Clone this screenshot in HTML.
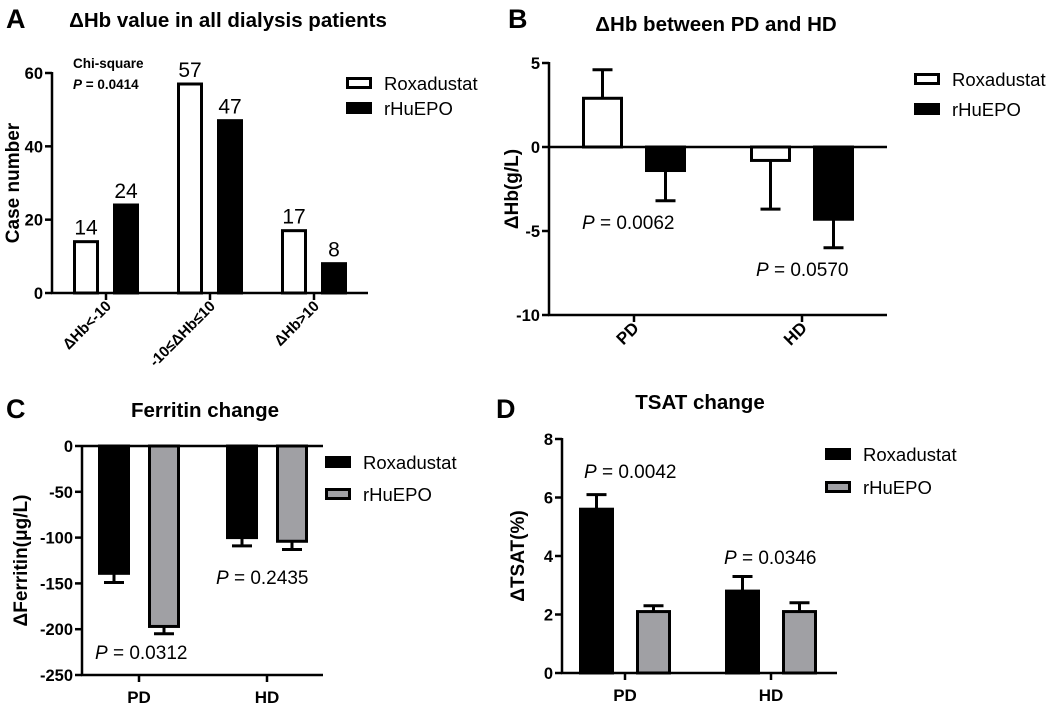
<!DOCTYPE html>
<html><head><meta charset="utf-8"><style>
html,body{margin:0;padding:0;background:#fff}
svg{display:block;font-family:"Liberation Sans",Arial,sans-serif}
</style></head><body>
<svg id="fig" width="1052" height="705" viewBox="0 0 1052 705">
<text x="6" y="28" font-size="27" font-weight="bold">A</text>
<text x="228" y="27" font-size="20.5" font-weight="bold" text-anchor="middle">ΔHb value in all dialysis patients</text>
<text x="508" y="28" font-size="27" font-weight="bold">B</text>
<text x="716" y="31" font-size="20.5" font-weight="bold" text-anchor="middle">ΔHb between PD and HD</text>
<text x="6" y="418" font-size="27" font-weight="bold">C</text>
<text x="205" y="417" font-size="20.5" font-weight="bold" text-anchor="middle">Ferritin change</text>
<text x="496" y="418" font-size="27" font-weight="bold">D</text>
<text x="700" y="409" font-size="20.5" font-weight="bold" text-anchor="middle">TSAT change</text>
<text x="73" y="68" font-size="13.5" font-weight="bold">Chi-square</text>
<text x="73" y="89" font-size="13.5" font-weight="bold"><tspan font-style="italic">P</tspan> = 0.0414</text>
</svg>
<script>
// Panel A data
const aCategories = ["ΔHb<-10", "-10≤ΔHb≤10", "ΔHb>10"];
const aRoxa = [14, 57, 17];
const aEpo = [24, 47, 8];
const aTicks = [0, 20, 40, 60];
// Panel B data
const bCategories = ["PD", "HD"];
const bRoxa = [2.9, -0.8];
const bEpo = [-1.4, -4.3];
const bRoxaErr = [4.6, -3.7];
const bEpoErr = [-3.2, -6.0];
const bTicks = [5, 0, -5, -10];
const bPvals = ["0.0062", "0.0570"];
// Panel C data
const cCategories = ["PD", "HD"];
const cRoxa = [-139, -100];
const cEpo = [-197, -104];
const cRoxaErr = [-149, -109];
const cEpoErr = [-205, -113];
const cTicks = [0, -50, -100, -150, -200, -250];
const cPvals = ["0.0312", "0.2435"];
// Panel D data
const dCategories = ["PD", "HD"];
const dRoxa = [5.6, 2.8];
const dEpo = [2.1, 2.1];
const dRoxaErr = [6.1, 3.3];
const dEpoErr = [2.3, 2.4];
const dTicks = [0, 2, 4, 6, 8];
const dPvals = ["0.0042", "0.0346"];

const NS = "http://www.w3.org/2000/svg";
const svg = document.getElementById('fig');
function mk(tag, attrs, parent) {
  const e = document.createElementNS(NS, tag);
  for (const k in attrs) e.setAttribute(k, attrs[k]);
  (parent || svg).appendChild(e);
  return e;
}
function txt(x, y, s, size, extra) {
  const t = mk('text', Object.assign({x: x, y: y, 'font-size': size}, extra || {}));
  t.textContent = s;
  return t;
}
function scaleY(vmin, vmax, ymin, ymax) { return v => ymax - (v - vmin) / (vmax - vmin) * (ymax - ymin); }

function panel(cfg) {
  const g = mk('g', {});
  
  
  const y = scaleY(cfg.vmin, cfg.vmax, cfg.yTop, cfg.yBot);
  cfg.cats.forEach((c, i) => {
    const cx = cfg.x0 + cfg.groupStart + i * cfg.groupStep;
    [[cfg.roxa, cfg.roxaErr, cfg.roxaFill], [cfg.epo, cfg.epoErr, cfg.epoFill]].forEach((s, j) => {
      const v = s[0][i];
      const bx = j === 0 ? cx - cfg.gap / 2 - cfg.bw : cx + cfg.gap / 2;
      const y0 = y(0), y1 = y(v);
      if (s[1]) {
        const ye = y(s[1][i]);
        const ex = bx + cfg.bw / 2;
        const el = mk('path', {d: `M${ex},${y1} L${ex},${ye} M${ex - 10},${ye} L${ex + 10},${ye}`, stroke: '#000', 'stroke-width': 3, fill: 'none'}, g);
        
        
      }
      const r = mk('rect', {x: bx + 1.5, y: Math.min(y0, y1), width: cfg.bw - 3, height: Math.abs(y1 - y0), fill: s[2], stroke: '#000', 'stroke-width': 3}, g);
      
      
      if (cfg.labels) {
        const t = txt(bx + cfg.bw / 2, y1 - 7, String(v), 21, {'text-anchor': 'middle'});
        
        
      }
    });
    const tk = mk('line', {x1: cx, x2: cx, y1: cfg.xAxisY, y2: cfg.xAxisY + 7, stroke: '#000', 'stroke-width': 2.5}, g);
    
    
    let lt;
    if (cfg.rotate) {
      lt = txt(cx + 6, cfg.xAxisY + 14, c, cfg.rotSize || 15, {'text-anchor': 'end', 'font-weight': 'bold', transform: `rotate(-45 ${cx + 6} ${cfg.xAxisY + 14})`});
    } else {
      lt = txt(cx, cfg.xAxisY + 28, c, 17, {'text-anchor': 'middle', 'font-weight': 'bold'});
    }
    
    
  });
  const ya = mk('line', {x1: cfg.x0, x2: cfg.x0, y1: cfg.yTop - 1, y2: cfg.yBot + 1, stroke: '#000', 'stroke-width': 2.5}, g);
  
  
  const xa = mk('line', {x1: cfg.x0 - 1, x2: cfg.xEnd, y1: cfg.xAxisY, y2: cfg.xAxisY, stroke: '#000', 'stroke-width': 2.5}, g);
  
  
  cfg.ticks.forEach(t => {
    const ty = y(t);
    const l = mk('line', {x1: cfg.x0 - 7, x2: cfg.x0, y1: ty, y2: ty, stroke: '#000', 'stroke-width': 2.5}, g);
    
    
    const tl = txt(cfg.x0 - 9, ty + 6, String(t), 16.5, {'text-anchor': 'end', 'font-weight': 'bold'});
    
    
  });
  const yt = txt(0, 0, cfg.ytitle, 19, {'text-anchor': 'middle', 'font-weight': 'bold', transform: `translate(${cfg.ytX},${(cfg.yTop + cfg.yBot) / 2}) rotate(-90)`});
  
  
  [['Roxadustat', cfg.roxaFill], ['rHuEPO', cfg.epoFill]].forEach((l, k) => {
    const ly = cfg.legY + k * cfg.legStep;
    const r = mk('rect', {x: cfg.legX + 1.5, y: ly + 1.5, width: 23, height: 9, fill: l[1], stroke: '#000', 'stroke-width': 3}, g);
    
    
    const t = txt(cfg.legX + 38, ly + 13, l[0], 18.5);
    
    
  });
  if (cfg.pvals) {
    cfg.pvals.forEach((p, i) => {
      const t = txt(cfg.pPos[i][0], cfg.pPos[i][1], '', 19);
      const a = mk('tspan', {'font-style': 'italic'}, t); a.textContent = 'P';
      const b = mk('tspan', {}, t); b.textContent = ' = ' + p;
      
      
    });
  }
}

panel({name: 'panel-a-chart', cats: aCategories, roxa: aRoxa, epo: aEpo, roxaFill: '#fff', epoFill: '#000',
  vmin: 0, vmax: 60, yTop: 73, yBot: 293, xAxisY: 293, x0: 52, xEnd: 368, groupStart: 54, groupStep: 104,
  bw: 26, gap: 14, ticks: aTicks, ytitle: 'Case number', ytX: 19, legX: 346, legY: 77, legStep: 25, labels: true, rotate: true, rotSize: 15});

panel({name: 'panel-b-chart', cats: bCategories, roxa: bRoxa, epo: bEpo, roxaErr: bRoxaErr, epoErr: bEpoErr, roxaFill: '#fff', epoFill: '#000',
  vmin: -10, vmax: 5, yTop: 63, yBot: 315, xAxisY: 315, x0: 549, xEnd: 887, groupStart: 85, groupStep: 168,
  bw: 41, gap: 22, ticks: bTicks, ytitle: 'ΔHb(g/L)', ytX: 518, legX: 914, legY: 73, legStep: 30, rotate: true, rotSize: 17,
  pvals: bPvals, pPos: [[582, 229], [756, 276]]});
(function(){ const l = mk('line', {x1: 549, x2: 887, y1: 147, y2: 147, stroke: '#000', 'stroke-width': 2.5});
    })();

panel({name: 'panel-c-chart', cats: cCategories, roxa: cRoxa, epo: cEpo, roxaErr: cRoxaErr, epoErr: cEpoErr, roxaFill: '#000', epoFill: '#a0a0a4',
  vmin: -250, vmax: 0, yTop: 446, yBot: 675, xAxisY: 675, x0: 82, xEnd: 323, groupStart: 57, groupStep: 128,
  bw: 32, gap: 18, ticks: cTicks, ytitle: 'ΔFerritin(μg/L)', ytX: 27, legX: 325, legY: 456, legStep: 32,
  pvals: cPvals, pPos: [[95, 659], [216, 584]]});
(function(){ const l = mk('line', {x1: 82, x2: 323, y1: 446, y2: 446, stroke: '#000', 'stroke-width': 2.5});
    })();

panel({name: 'panel-d-chart', cats: dCategories, roxa: dRoxa, epo: dEpo, roxaErr: dRoxaErr, epoErr: dEpoErr, roxaFill: '#000', epoFill: '#a0a0a4',
  vmin: 0, vmax: 8, yTop: 439, yBot: 673, xAxisY: 673, x0: 562, xEnd: 837, groupStart: 63, groupStep: 146,
  bw: 35, gap: 22, ticks: dTicks, ytitle: 'ΔTSAT(%)', ytX: 524, legX: 825, legY: 448, legStep: 33,
  pvals: dPvals, pPos: [[584, 478], [724, 564]]});
</script>
</body></html>
